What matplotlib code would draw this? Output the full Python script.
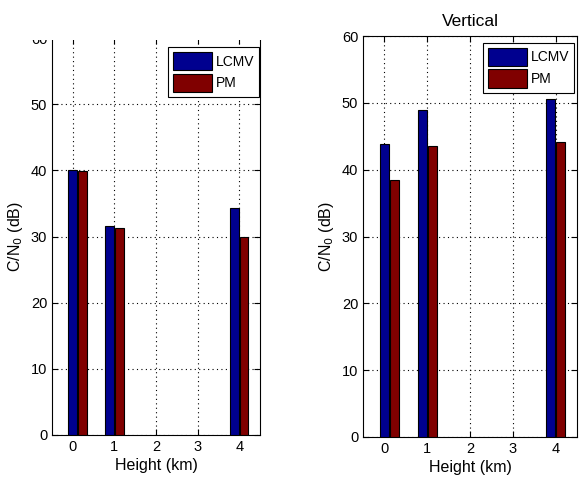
import matplotlib
matplotlib.use("Agg")
import matplotlib.pyplot as plt
import numpy as np
from matplotlib.patches import Rectangle

plt.rcParams['font.family'] = ['Liberation Sans', 'DejaVu Sans']
plt.rcParams['font.size'] = 10

group_x_left = [0.11, 1.0, 4.0]
group_x_right = [0.11, 1.0, 4.0]
lcmv_left = [40.0, 31.6, 34.3]
pm_left = [39.9, 31.3, 30.0]
lcmv_right = [43.9, 49.0, 50.5]
pm_right = [38.5, 43.5, 44.2]
xticks = [0, 1, 2, 3, 4]
yticks = [0, 10, 20, 30, 40, 50, 60]
series_names = ['LCMV', 'PM']
title_right = 'Vertical'

W, H = 579, 484
fig = plt.figure(figsize=(W / 100, H / 100), dpi=100)

def px_axes(x0, y0, x1, y1):
    return fig.add_axes([x0 / W, 1 - y1 / H, (x1 - x0) / W, (y1 - y0) / H])

ax1 = px_axes(52, 38, 260, 435)
ax2 = px_axes(363, 36, 577, 437)

blue = '#00008F'
red = '#800000'
bw = 0.21
off = 0.115

def draw(ax, gx, a, b, anchor):
    gx = np.array(gx)
    ax.bar(gx - off, a, width=bw, color=blue, edgecolor='black', linewidth=0.8, label=series_names[0], zorder=3)
    ax.bar(gx + off, b, width=bw, color=red, edgecolor='black', linewidth=0.8, label=series_names[1], zorder=3)
    ax.set_xlim(-0.5, 4.5)
    ax.set_ylim(0, 60)
    ax.set_xticks(xticks)
    ax.set_yticks(yticks)
    ax.grid(True, color='black', linestyle=(0, (1, 3)), linewidth=0.8, zorder=0)
    ax.tick_params(direction='in', top=True, right=True, length=4, labelsize=10.5)
    ax.set_xlabel('Height (km)', fontsize=11.5, labelpad=3)
    ax.set_ylabel('C/N$_0$ (dB)', fontsize=11.5, labelpad=4)
    for s in ax.spines.values():
        s.set_linewidth(0.8)
    leg = ax.legend(loc='upper right', bbox_to_anchor=anchor, fancybox=False, edgecolor='black',
                    framealpha=1, handlelength=2.8, handleheight=1.65, borderaxespad=0.0,
                    fontsize=10, handletextpad=0.25, labelspacing=0.25, borderpad=0.35)
    leg.get_frame().set_linewidth(0.8)

draw(ax1, group_x_left, lcmv_left, pm_left, (0.995, 0.977))
draw(ax2, group_x_right, lcmv_right, pm_right, (0.986, 0.983))
ax2.set_title(title_right, fontsize=12.5, pad=7)

# crop at top of left panel as in reference
fig.patches.append(Rectangle((0, 1 - 40 / H), 300 / W, 40 / H, transform=fig.transFigure,
                             facecolor='white', edgecolor='none', zorder=10))

fig.savefig('out.png', dpi=100)
